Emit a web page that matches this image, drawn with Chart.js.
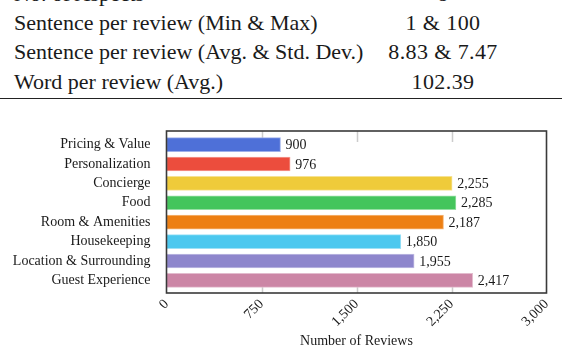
<!DOCTYPE html>
<html>
<head>
<meta charset="utf-8">
<script src="https://cdn.jsdelivr.net/npm/chart.js@4.4.1/dist/chart.umd.min.js"></script>
<style>
  html, body { margin: 0; padding: 0; background: #fff; }
  body { width: 562px; height: 346px; position: relative; overflow: hidden; font-family: "Liberation Serif", serif; color: #1a1a1a; }
  .stats { position: absolute; left: 0; top: -21px; width: 562px; font-size: 22px; line-height: 29.2px; }
  .row { position: relative; height: 29.2px; white-space: nowrap; }
  .row .k { position: absolute; left: 14px; }
  .row .v { position: absolute; left: 343px; width: 200px; text-align: center; letter-spacing: 0.4px; }
  .rule { position: absolute; left: 0; top: 97.5px; width: 562px; height: 1.5px; background: #222; }
  #chart { position: absolute; left: 0; top: 100px; }
</style>
</head>
<body>
<div class="stats">
  <div class="row"><span class="k">No. of Aspects</span><span class="v">8</span></div>
  <div class="row"><span class="k">Sentence per review (Min &amp; Max)</span><span class="v">1 &amp; 100</span></div>
  <div class="row"><span class="k">Sentence per review (Avg. &amp; Std. Dev.)</span><span class="v">8.83 &amp; 7.47</span></div>
  <div class="row"><span class="k">Word per review (Avg.)</span><span class="v">102.39</span></div>
</div>
<div class="rule"></div>
<canvas id="chart" width="562" height="248"></canvas>
<script>
const categories = ['Pricing & Value', 'Personalization', 'Concierge', 'Food', 'Room & Amenities', 'Housekeeping', 'Location & Surrounding', 'Guest Experience'];
const reviewCounts = [900, 976, 2255, 2285, 2187, 1850, 1955, 2417];
const barColors = ['#4e70d8', '#ec4d3d', '#efcb3a', '#44c55c', '#ed7f13', '#4cc8ef', '#8e86cc', '#cc86a6'];
const xTicks = [0, 750, 1500, 2250, 3000];

const serif = '"Liberation Serif", serif';
const textColor = '#1a1a1a';

// lighter edge for each bar
const lighten = (hex) => {
    const n = parseInt(hex.slice(1), 16);
    const mix = (c) => Math.round(c + (255 - c) * 0.45);
    return `rgb(${mix(n >> 16)}, ${mix((n >> 8) & 255)}, ${mix(n & 255)})`;
};

const framePlugin = {
    id: 'framePlugin',
    beforeDatasetsDraw(chart) {
        const { ctx, chartArea: a } = chart;
        const xs = chart.scales.x;
        ctx.save();
        ctx.strokeStyle = '#cccccc';
        ctx.lineWidth = 1.5;
        xTicks.slice(1, -1).forEach(v => {
            const px = Math.round(xs.getPixelForValue(v)) + 0.5;
            ctx.beginPath();
            ctx.moveTo(px, a.top);
            ctx.lineTo(px, a.top + 11);
            ctx.moveTo(px, a.bottom - 7);
            ctx.lineTo(px, a.bottom);
            ctx.stroke();
        });
        ctx.restore();
    },
    afterDatasetsDraw(chart) {
        const { ctx, chartArea: a } = chart;
        ctx.save();
        ctx.strokeStyle = '#3a3a3a';
        ctx.lineWidth = 1.6;
        ctx.strokeRect(a.left, a.top, a.right - a.left, a.bottom - a.top);

        ctx.fillStyle = textColor;
        ctx.font = '14px ' + serif;
        ctx.textAlign = 'left';
        ctx.textBaseline = 'middle';
        chart.getDatasetMeta(0).data.forEach((bar, i) => {
            ctx.fillText(reviewCounts[i].toLocaleString('en-US'), bar.x + 5, bar.y + 1);
        });
        ctx.restore();
    }
};

new Chart(document.getElementById('chart'), {
    type: 'bar',
    data: {
        datasets: [{
            data: reviewCounts.map((v, i) => ({ x: v, y: i })),
            backgroundColor: barColors,
            borderColor: barColors.map(lighten),
            borderWidth: 1,
            borderSkipped: false,
            barThickness: 14
        }]
    },
    options: {
        indexAxis: 'y',
        responsive: false,
        animation: false,
        devicePixelRatio: 1,
        layout: { padding: { top: 31, right: 15.5, left: 0, bottom: 0 } },
        plugins: { legend: { display: false }, tooltip: { enabled: false } },
        scales: {
            x: {
                type: 'linear',
                min: 0,
                max: 3000,
                afterBuildTicks: (axis) => { axis.ticks = xTicks.map(v => ({ value: v })); },
                afterFit: (axis) => { axis.height = 55; },
                ticks: {
                    minRotation: 45,
                    maxRotation: 45,
                    padding: 3,
                    color: textColor,
                    font: { family: serif, size: 14 },
                    callback: (v) => v.toLocaleString('en-US')
                },
                grid: { display: false, drawTicks: false },
                border: { display: false },
                title: {
                    display: true,
                    text: 'Number of Reviews',
                    color: textColor,
                    font: { family: serif, size: 14, lineHeight: 1 },
                    padding: { top: 0, bottom: 0 }
                }
            },
            y: {
                type: 'linear',
                reverse: true,
                offset: false,
                min: -0.7,
                max: 7.65,
                afterBuildTicks: (axis) => { axis.ticks = categories.map((c, i) => ({ value: i })); },
                afterFit: (axis) => { axis.width = 166.5; },
                ticks: {
                    padding: 16,
                    color: textColor,
                    font: { family: serif, size: 14 },
                    callback: (v) => categories[v]
                },
                grid: { display: false, drawTicks: false },
                border: { display: false }
            }
        }
    },
    plugins: [framePlugin]
});
</script>
</body>
</html>
